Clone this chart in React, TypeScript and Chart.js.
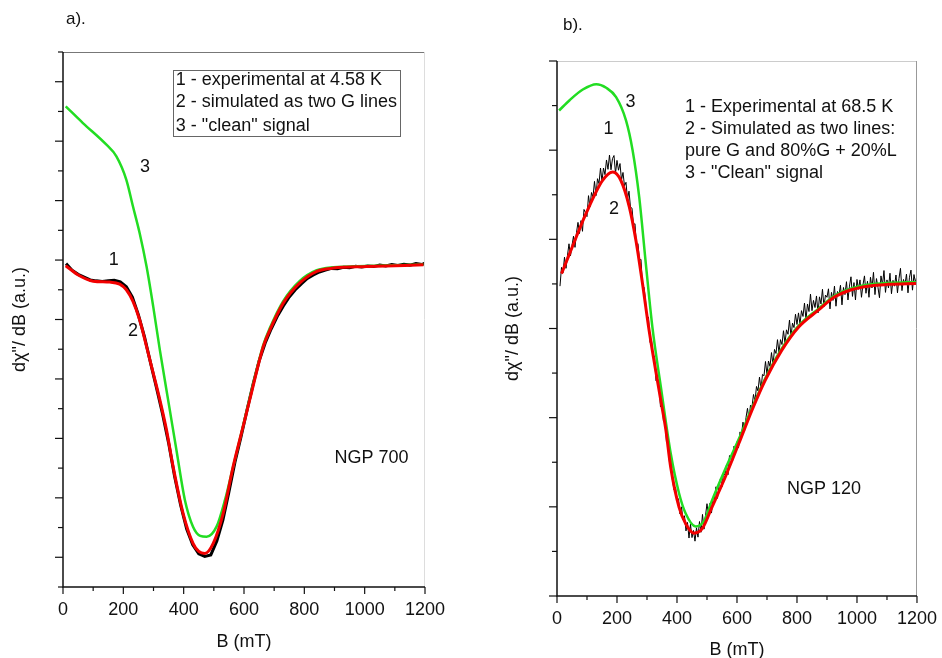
import React, { useEffect, useRef } from "react";
import { Chart, registerables } from "chart.js";
Chart.register(...registerables);

const FONT = '"Liberation Sans", Arial, Helvetica, sans-serif';

// ---------------- Panel a) NGP 700 ----------------
const A_RED_B = [9, 55, 100, 155, 188, 210, 232, 254, 277, 299, 321, 343, 365, 398, 431, 450, 470, 498, 531, 564, 597, 619, 664, 686, 730, 785, 841, 896, 1007, 1195];
const A_RED_Y = [10.81, 10.47, 10.29, 10.26, 10.19, 10.0, 9.61, 8.99, 8.09, 7.2, 6.3, 5.29, 4.05, 2.48, 1.47, 1.2, 1.13, 1.47, 2.48, 4.05, 5.4, 6.3, 8.09, 8.65, 9.55, 10.23, 10.62, 10.73, 10.78, 10.84];

const A_GREEN_B = [9, 66, 144, 177, 210, 232, 254, 277, 299, 321, 354, 376, 404, 431, 455, 476, 509, 537, 564, 597, 619, 664, 686, 730, 785, 841, 896, 1007, 1195];
const A_GREEN_Y = [16.17, 15.61, 14.88, 14.49, 13.7, 12.8, 11.91, 10.78, 9.44, 7.98, 5.96, 4.61, 2.93, 2.03, 1.72, 1.69, 2.03, 2.93, 4.05, 5.42, 6.35, 8.15, 8.72, 9.62, 10.3, 10.66, 10.76, 10.8, 10.85];

const A_EXP_B = [10, 30, 50, 70, 90, 110, 130, 150, 170, 190, 210, 230, 250, 270, 290, 310, 330, 350, 370, 390, 410, 430, 450, 470, 490, 510, 530, 550, 570, 590, 610, 630, 650, 670, 690, 710, 730, 750, 770, 790, 810, 830, 850, 870, 890, 910, 930, 950, 970, 990, 1010, 1030, 1050, 1070, 1090, 1110, 1130, 1150, 1170, 1190, 1200];
const A_EXP_Y = [10.88, 10.66, 10.52, 10.43, 10.33, 10.3, 10.28, 10.3, 10.32, 10.27, 10.1, 9.75, 9.15, 8.42, 7.55, 6.7, 5.82, 4.85, 3.72, 2.75, 1.95, 1.42, 1.12, 1.03, 1.08, 1.55, 2.25, 3.2, 4.2, 5.05, 5.95, 6.82, 7.6, 8.2, 8.68, 9.1, 9.45, 9.76, 10.0, 10.2, 10.38, 10.5, 10.6, 10.66, 10.72, 10.71, 10.76, 10.74, 10.79, 10.77, 10.8, 10.78, 10.83, 10.8, 10.85, 10.82, 10.86, 10.83, 10.88, 10.85, 10.9];

const A_LEGEND = ["1 - experimental at 4.58 K", "2 - simulated as two G lines", '3 - "clean" signal'];

// ---------------- Panel b) NGP 120 ----------------
const B_RED_B = [15, 42, 97, 152, 186, 213, 241, 263, 285, 307, 346, 363, 379, 407, 429, 456, 484, 517, 561, 606, 650, 694, 749, 805, 871, 926, 981, 1036, 1102, 1197];
const B_RED_Y = [7.23, 7.68, 8.58, 9.32, 9.51, 9.32, 8.73, 7.98, 7.01, 5.96, 4.39, 3.72, 2.89, 1.99, 1.62, 1.41, 1.51, 2.0, 2.67, 3.42, 4.17, 4.84, 5.51, 6.03, 6.41, 6.71, 6.87, 6.95, 6.99, 7.01];

const B_GREEN_B = [7, 42, 86, 131, 164, 197, 230, 252, 274, 296, 318, 346, 379, 407, 429, 462, 490, 517, 561, 606, 650, 694, 749, 805, 871, 926, 981, 1036, 1102, 1197];
const B_GREEN_Y = [10.89, 11.12, 11.36, 11.48, 11.4, 11.19, 10.67, 10.0, 8.95, 7.46, 6.03, 4.7, 3.2, 2.3, 1.85, 1.56, 1.68, 2.15, 2.85, 3.52, 4.22, 4.88, 5.55, 6.06, 6.44, 6.74, 6.9, 6.98, 7.02, 7.04];

// experimental trace, sampled every 5 mT starting at 10 mT
const B_EXP_START = 10;
const B_EXP_STEP = 5;
const B_EXP_Y = [
  6.95, 7.37, 7.25, 7.6, 7.35, 7.64, 7.9, 7.63, 7.86, 8.07,
  7.82, 8.15, 8.38, 8.13, 8.42, 8.18, 8.67, 8.6, 8.51, 8.98,
  8.73, 9.05, 8.95, 9.3, 8.98, 9.36, 9.25, 9.6, 9.31, 9.6,
  9.45, 9.78, 9.57, 9.89, 9.56, 9.81, 9.88, 9.48, 9.77, 9.55,
  9.7, 9.33, 9.5, 9.2, 9.28, 8.9, 9.08, 8.72, 8.7, 8.33,
  8.35, 7.85, 7.9, 7.53, 7.55, 6.96, 6.93, 6.64, 6.2, 6.26,
  5.69, 5.74, 5.39, 5.38, 4.83, 4.88, 4.75, 4.24, 4.3, 3.92,
  3.92, 3.45, 3.41, 3.0, 3.01, 2.59, 2.38, 2.44, 2.15, 2.18,
  1.84, 2.0, 1.71, 1.8, 1.46, 1.65, 1.3, 1.61, 1.31, 1.47,
  1.23, 1.53, 1.32, 1.67, 1.43, 1.83, 1.5, 1.8, 2.07, 1.8,
  2.08, 1.86, 2.19, 2.17, 2.45, 2.19, 2.47, 2.64, 2.45, 2.76,
  2.71, 2.94, 2.72, 3.15, 3.08, 3.01, 3.36, 3.24, 3.46, 3.32,
  3.68, 3.62, 3.9, 3.69, 4.0, 4.21, 3.97, 4.28, 4.24, 4.52,
  4.37, 4.7, 4.6, 4.91, 4.64, 4.97, 4.94, 5.26, 4.97, 5.27,
  5.15, 5.46, 5.19, 5.53, 5.44, 5.75, 5.46, 5.75, 5.64, 5.95,
  5.67, 5.97, 5.87, 6.19, 5.82, 6.12, 6.02, 6.32, 6.09, 6.35,
  6.1, 6.4, 6.27, 6.57, 6.2, 6.55, 6.38, 6.77, 6.4, 6.63,
  6.47, 6.73, 6.35, 6.71, 6.55, 6.88, 6.49, 6.75, 6.7, 6.89,
  6.44, 6.81, 6.63, 6.95, 6.5, 6.83, 6.75, 6.97, 6.53, 6.92,
  6.76, 7.05, 6.64, 6.95, 7.16, 6.72, 7.03, 6.64, 7.1, 6.88,
  7.09, 6.7, 6.98, 7.18, 6.79, 7.06, 6.7, 7.15, 6.91, 7.26,
  6.76, 7.12, 6.92, 6.69, 7.18, 6.98, 7.3, 6.81, 7.09, 6.91,
  7.24, 6.78, 7.08, 6.95, 7.2, 6.8, 7.12, 7.35, 6.85, 7.1,
  6.98, 7.22, 6.8, 7.15, 7.31, 6.86, 7.21, 7.03, 7.19,
];

const B_LEGEND = ["1 - Experimental at 68.5 K", "2 - Simulated as two lines:", "pure G and 80%G + 20%L", '3 - "Clean" signal'];

const X_MIN = 0;
const X_MAX = 1200;
const X_STEP = 100;

type Note = { text: string; x: number; y: number; align?: CanvasTextAlign };
type Pt = { x: number; y: number };

const pts = (xs: number[], ys: number[]): Pt[] => xs.map((x, i) => ({ x, y: ys[i] }));
const sampled = (start: number, step: number, ys: number[]): Pt[] => ys.map((y, i) => ({ x: start + step * i, y }));

interface PanelCfg {
  left: number;
  width: number;
  height: number;
  padTop: number;
  padRight: number;
  yWidth: number;
  xHeight: number;
  yMax: number;
  majorOdd: boolean;
  yTitlePad: number;
  xTitlePadBottom: number;
  expWidth: number;
  tag: string;
  tagX: number;
  tagY: number;
  notes: Note[];
  legend: string[];
  legendX: number;
  legendY: number[];
  legendBox?: { x0: number; x1: number; y0: number; y1: number };
  topColor: string;
  rightColor: string;
  exp: Pt[];
  red: Pt[];
  green: Pt[];
}

const framePlugin = {
  id: "frame",
  afterDraw(chart: any, _args: any, o: any) {
    const cfg: PanelCfg = o.cfg;
    const { ctx, chartArea: ca, scales } = chart;
    const xs = scales.x;
    const ys = scales.y;
    ctx.save();
    ctx.lineWidth = 1;
    ctx.strokeStyle = cfg.topColor;
    ctx.beginPath();
    ctx.moveTo(ca.left, Math.round(ca.top) + 0.5);
    ctx.lineTo(ca.right, Math.round(ca.top) + 0.5);
    ctx.stroke();
    ctx.strokeStyle = cfg.rightColor;
    ctx.beginPath();
    ctx.moveTo(Math.round(ca.right) - 0.5, ca.top);
    ctx.lineTo(Math.round(ca.right) - 0.5, ca.bottom);
    ctx.stroke();
    ctx.strokeStyle = "#111";
    ctx.lineWidth = 1.5;
    ctx.beginPath();
    ctx.moveTo(ca.left, ca.top);
    ctx.lineTo(ca.left, ca.bottom);
    ctx.lineTo(ca.right, ca.bottom);
    ctx.stroke();
    ctx.lineWidth = 1.2;
    for (const t of xs.ticks) {
      const px = xs.getPixelForValue(t.value);
      const len = t.value % 200 === 0 ? 7 : 4;
      ctx.beginPath();
      ctx.moveTo(px, ca.bottom);
      ctx.lineTo(px, ca.bottom + len);
      ctx.stroke();
    }
    for (const t of ys.ticks) {
      const py = ys.getPixelForValue(t.value);
      const isMajor = cfg.majorOdd ? t.value % 2 === 1 : t.value % 2 === 0;
      const len = isMajor ? 8 : 5;
      ctx.beginPath();
      ctx.moveTo(ca.left - len, py);
      ctx.lineTo(ca.left, py);
      ctx.stroke();
    }
    ctx.fillStyle = "#111";
    ctx.textBaseline = "middle";
    ctx.font = `17px ${FONT}`;
    ctx.textAlign = "left";
    ctx.fillText(cfg.tag, cfg.tagX, cfg.tagY);
    ctx.font = `18px ${FONT}`;
    for (const n of cfg.notes) {
      ctx.textAlign = n.align || "center";
      ctx.fillText(n.text, xs.getPixelForValue(n.x), ys.getPixelForValue(n.y));
    }
    ctx.textAlign = "left";
    cfg.legend.forEach((s, i) => {
      ctx.fillText(s, xs.getPixelForValue(cfg.legendX), ys.getPixelForValue(cfg.legendY[i]));
    });
    if (cfg.legendBox) {
      const b = cfg.legendBox;
      const x0 = Math.round(xs.getPixelForValue(b.x0)) + 0.5;
      const x1 = Math.round(xs.getPixelForValue(b.x1)) + 0.5;
      const y0 = Math.round(ys.getPixelForValue(b.y0)) + 0.5;
      const y1 = Math.round(ys.getPixelForValue(b.y1)) + 0.5;
      ctx.strokeStyle = "#666";
      ctx.lineWidth = 1;
      ctx.strokeRect(x0, y0, x1 - x0, y1 - y0);
    }
    ctx.restore();
  },
};

function Panel({ cfg }: { cfg: PanelCfg }) {
  const ref = useRef<HTMLCanvasElement>(null);
  useEffect(() => {
    if (!ref.current) return;
    const font = { family: FONT, size: 18 };
    const chart = new Chart(ref.current, {
      type: "line",
      data: {
        datasets: [
          { data: cfg.red, borderColor: "#f20000", borderWidth: 3, pointRadius: 0, cubicInterpolationMode: "monotone", order: 0, fill: false },
          { data: cfg.green, borderColor: "#22dd22", borderWidth: 2.5, pointRadius: 0, cubicInterpolationMode: "monotone", order: 1, fill: false },
          { data: cfg.exp, borderColor: "#000", borderWidth: cfg.expWidth, pointRadius: 0, tension: 0, order: 2, fill: false },
        ],
      } as any,
      options: {
        animation: false,
        responsive: false,
        maintainAspectRatio: false,
        events: [],
        layout: { padding: { top: cfg.padTop, right: cfg.padRight, left: 0, bottom: 0 } },
        plugins: {
          legend: { display: false },
          tooltip: { enabled: false },
          frame: { cfg },
        } as any,
        scales: {
          x: {
            type: "linear",
            min: X_MIN,
            max: X_MAX,
            ticks: {
              stepSize: X_STEP,
              autoSkip: false,
              maxRotation: 0,
              font,
              color: "#111",
              padding: 5,
              callback: (v: any) => (Number(v) % 200 === 0 ? String(v) : ""),
            },
            grid: { display: false, drawTicks: true, tickLength: 7 },
            border: { display: false },
            title: { display: true, text: "B (mT)", font, color: "#111", padding: { top: 0, bottom: cfg.xTitlePadBottom } },
            afterFit: (s: any) => {
              s.height = cfg.xHeight;
            },
          },
          y: {
            type: "linear",
            min: 0,
            max: cfg.yMax,
            ticks: { display: false, stepSize: 1 },
            grid: { display: false },
            border: { display: false },
            title: { display: true, text: 'dχ"/ dB (a.u.)', font, color: "#111", padding: { top: cfg.yTitlePad, bottom: 0 } },
            afterFit: (s: any) => {
              s.width = cfg.yWidth;
            },
          },
        },
      } as any,
      plugins: [framePlugin],
    });
    return () => chart.destroy();
  }, [cfg]);
  return (
    <canvas
      ref={ref}
      width={cfg.width}
      height={cfg.height}
      style={{ position: "absolute", left: cfg.left, top: 0, width: cfg.width, height: cfg.height }}
    />
  );
}

const PANEL_A: PanelCfg = {
  left: 0,
  width: 471,
  height: 658,
  padTop: 52,
  padRight: 46,
  yWidth: 63,
  xHeight: 71,
  yMax: 18,
  majorOdd: true,
  yTitlePad: 9,
  xTitlePadBottom: 5,
  expWidth: 3,
  tag: "a).",
  tagX: 66,
  tagY: 19,
  notes: [
    { text: "3", x: 272, y: 14.12 },
    { text: "1", x: 168, y: 10.99 },
    { text: "2", x: 232, y: 8.6 },
    { text: "NGP 700", x: 1023, y: 4.33 },
  ],
  legend: A_LEGEND,
  legendX: 374,
  legendY: [17.06, 16.3, 15.52],
  legendBox: { x0: 365, x1: 1117, y0: 17.38, y1: 15.19 },
  topColor: "#777",
  rightColor: "#ddd",
  exp: pts(A_EXP_B, A_EXP_Y),
  red: pts(A_RED_B, A_RED_Y),
  green: pts(A_GREEN_B, A_GREEN_Y),
};

const PANEL_B: PanelCfg = {
  left: 471,
  width: 471,
  height: 658,
  padTop: 61,
  padRight: 23,
  yWidth: 86,
  xHeight: 62,
  yMax: 12,
  majorOdd: false,
  yTitlePad: 31,
  xTitlePadBottom: -3,
  expWidth: 1,
  tag: "b).",
  tagX: 92,
  tagY: 25,
  notes: [
    { text: "3", x: 245, y: 11.08 },
    { text: "1", x: 172, y: 10.47 },
    { text: "2", x: 190, y: 8.67 },
    { text: "NGP 120", x: 890, y: 2.41 },
  ],
  legend: B_LEGEND,
  legendX: 427,
  legendY: [10.97, 10.48, 9.98, 9.49],
  topColor: "#ccc",
  rightColor: "#999",
  exp: sampled(B_EXP_START, B_EXP_STEP, B_EXP_Y),
  red: pts(B_RED_B, B_RED_Y),
  green: pts(B_GREEN_B, B_GREEN_Y),
};

export default function App() {
  return (
    <div style={{ position: "fixed", left: 0, top: 0, width: 942, height: 658, background: "#fff", overflow: "hidden" }}>
      <Panel cfg={PANEL_A} />
      <Panel cfg={PANEL_B} />
    </div>
  );
}
